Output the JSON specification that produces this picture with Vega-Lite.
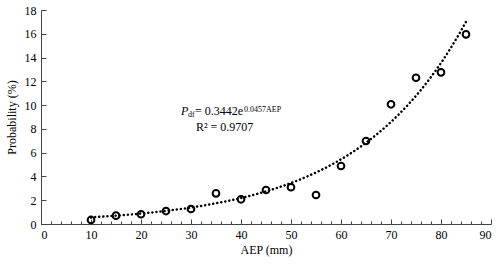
{
  "$schema": "https://vega.github.io/schema/vega-lite/v6.json",
  "width": 450,
  "height": 214,
  "autosize": {"type": "none"},
  "padding": {"left": 41, "top": 10, "right": 9, "bottom": 43},
  "background": "white",
  "config": {
    "view": {"stroke": null},
    "font": "Liberation Serif",
    "axis": {
      "labelFont": "Liberation Serif",
      "titleFont": "Liberation Serif",
      "labelFontSize": 12,
      "titleFontSize": 12,
      "titleFontWeight": "normal",
      "labelColor": "#000",
      "titleColor": "#000",
      "domainColor": "#444",
      "tickColor": "#444",
      "labelOverlap": false,
      "grid": false
    },
    "axisY": {"labelOverlap": false}
  },
  "datasets": {
    "obs": [
      {"AEP": 10, "P": 0.34},
      {"AEP": 15, "P": 0.70},
      {"AEP": 20, "P": 0.82},
      {"AEP": 25, "P": 1.09},
      {"AEP": 30, "P": 1.26},
      {"AEP": 35, "P": 2.58},
      {"AEP": 40, "P": 2.08},
      {"AEP": 45, "P": 2.86},
      {"AEP": 50, "P": 3.09},
      {"AEP": 55, "P": 2.44},
      {"AEP": 60, "P": 4.88},
      {"AEP": 65, "P": 6.98},
      {"AEP": 70, "P": 10.07},
      {"AEP": 75, "P": 12.30},
      {"AEP": 80, "P": 12.76},
      {"AEP": 85, "P": 15.95}
    ],
    "note": [{"label": "fit"}]
  },
  "resolve": {"axis": {"x": "independent"}},
  "layer": [
    {
      "data": {"name": "obs"},
      "mark": {"type": "point", "shape": "circle", "filled": false, "stroke": "#000", "strokeWidth": 2, "size": 45, "opacity": 1},
      "encoding": {
        "x": {"field": "AEP", "type": "quantitative", "scale": {"domain": [0, 90], "nice": false},
          "axis": {"orient": "bottom", "values": [0,10,20,30,40,50,60,70,80,90], "title": "AEP (mm)", "tickSize": -5, "labelPadding": 10, "titlePadding": 4, "labelOverlap": false}},
        "y": {"field": "P", "type": "quantitative", "scale": {"domain": [0, 18], "nice": false},
          "axis": {"values": [0,2,4,6,8,10,12,14,16,18], "title": "Probability (%)", "tickSize": -5, "labelPadding": 10, "titlePadding": 6, "labelOverlap": false}}
      }
    },
    {
      "data": {"name": "obs"},
      "transform": [{"regression": "P", "on": "AEP", "method": "exp", "extent": [10, 85]}],
      "mark": {"type": "line", "stroke": "#000", "strokeWidth": 2.5, "strokeDash": [0.1, 4], "strokeCap": "round"},
      "encoding": {
        "x": {"field": "AEP", "type": "quantitative",
          "axis": {"orient": "bottom", "values": [0,2,4,6,8,10,12,14,16,18,20,22,24,26,28,30,32,34,36,38,40,42,44,46,48,50,52,54,56,58,60,62,64,66,68,70,72,74,76,78,80,82,84,86,88,90], "labels": false, "domain": false, "title": null, "tickSize": -3}},
        "y": {"field": "P", "type": "quantitative",
          "axis": {"values": [0,2,4,6,8,10,12,14,16,18], "title": "Probability (%)", "tickSize": -5, "labelPadding": 10, "titlePadding": 6, "labelOverlap": false}}
      }
    },
    {
      "data": {"name": "note"},
      "mark": {"type": "text", "align": "left", "baseline": "alphabetic", "fontSize": 12, "fontStyle": "italic", "font": "Liberation Serif"},
      "encoding": {
        "x": {"datum": 28, "type": "quantitative", "axis": null},
        "y": {"datum": 9.2, "type": "quantitative",
          "axis": {"values": [0,2,4,6,8,10,12,14,16,18], "title": "Probability (%)", "tickSize": -5, "labelPadding": 10, "titlePadding": 6, "labelOverlap": false}},
        "text": {"value": "P"}
      }
    },
    {
      "data": {"name": "note"},
      "mark": {"type": "text", "align": "left", "baseline": "alphabetic", "fontSize": 8, "dx": 7, "dy": 2, "font": "Liberation Serif"},
      "encoding": {
        "x": {"datum": 28, "type": "quantitative", "axis": null},
        "y": {"datum": 9.2, "type": "quantitative",
          "axis": {"values": [0,2,4,6,8,10,12,14,16,18], "title": "Probability (%)", "tickSize": -5, "labelPadding": 10, "titlePadding": 6, "labelOverlap": false}},
        "text": {"value": "df"}
      }
    },
    {
      "data": {"name": "note"},
      "mark": {"type": "text", "align": "left", "baseline": "alphabetic", "fontSize": 12, "dx": 14, "font": "Liberation Serif"},
      "encoding": {
        "x": {"datum": 28, "type": "quantitative", "axis": null},
        "y": {"datum": 9.2, "type": "quantitative",
          "axis": {"values": [0,2,4,6,8,10,12,14,16,18], "title": "Probability (%)", "tickSize": -5, "labelPadding": 10, "titlePadding": 6, "labelOverlap": false}},
        "text": {"value": "= 0.3442e"}
      }
    },
    {
      "data": {"name": "note"},
      "mark": {"type": "text", "align": "left", "baseline": "alphabetic", "fontSize": 8, "dx": 63, "dy": -3, "font": "Liberation Serif"},
      "encoding": {
        "x": {"datum": 28, "type": "quantitative", "axis": null},
        "y": {"datum": 9.2, "type": "quantitative",
          "axis": {"values": [0,2,4,6,8,10,12,14,16,18], "title": "Probability (%)", "tickSize": -5, "labelPadding": 10, "titlePadding": 6, "labelOverlap": false}},
        "text": {"value": "0.0457AEP"}
      }
    },
    {
      "data": {"name": "note"},
      "mark": {"type": "text", "align": "left", "baseline": "alphabetic", "fontSize": 12, "dx": 15, "font": "Liberation Serif"},
      "encoding": {
        "x": {"datum": 28, "type": "quantitative", "axis": null},
        "y": {"datum": 7.8, "type": "quantitative",
          "axis": {"values": [0,2,4,6,8,10,12,14,16,18], "title": "Probability (%)", "tickSize": -5, "labelPadding": 10, "titlePadding": 6, "labelOverlap": false}},
        "text": {"value": "R² = 0.9707"}
      }
    }
  ]
}
